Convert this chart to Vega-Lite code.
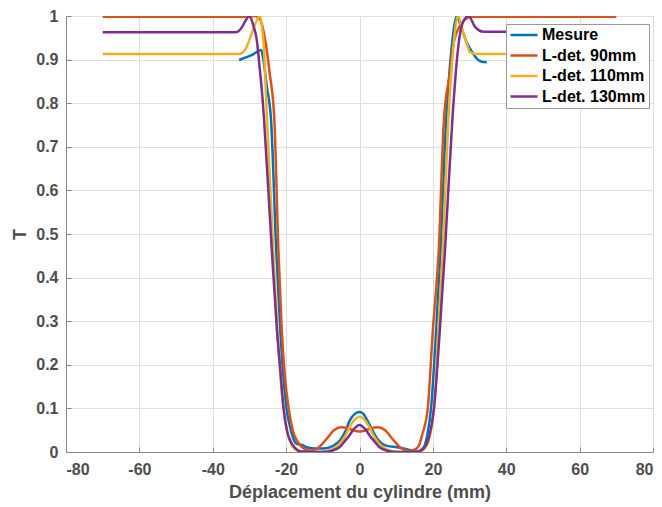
{
  "$schema": "https://vega.github.io/schema/vega-lite/v6.json",
  "width": 587,
  "height": 436,
  "autosize": {"type": "none"},
  "padding": {"left": 66, "top": 16, "right": 9, "bottom": 55},
  "background": "white",
  "config": {
    "view": {"stroke": "#888888", "strokeWidth": 1},
    "font": "Liberation Sans",
    "axis": {
      "labelFont": "Liberation Sans",
      "labelFontWeight": "bold",
      "labelFontSize": 16,
      "labelColor": "#4d4d4d",
      "titleFont": "Liberation Sans",
      "titleFontWeight": "bold",
      "titleFontSize": 18,
      "titleColor": "#4d4d4d",
      "domainColor": "#888888",
      "tickColor": "#888888",
      "gridColor": "#dedede",
      "gridWidth": 1
    }
  },
  "data": {
    "values": [
      {"s":"Mesure","x":-32.8,"y":0.899},{"s":"Mesure","x":-31,"y":0.905},{"s":"Mesure","x":-29,"y":0.912},{"s":"Mesure","x":-27.5,"y":0.92},{"s":"Mesure","x":-26.8,"y":0.922},{"s":"Mesure","x":-26.2,"y":0.9},{"s":"Mesure","x":-25.3,"y":0.84},{"s":"Mesure","x":-24.1,"y":0.76},{"s":"Mesure","x":-22.7,"y":0.463},{"s":"Mesure","x":-21.6,"y":0.28},{"s":"Mesure","x":-20.5,"y":0.15},{"s":"Mesure","x":-19.9,"y":0.1},{"s":"Mesure","x":-19,"y":0.06},{"s":"Mesure","x":-18,"y":0.03},{"s":"Mesure","x":-17,"y":0.018},{"s":"Mesure","x":-15.6,"y":0.016},{"s":"Mesure","x":-14.4,"y":0.011},{"s":"Mesure","x":-12,"y":0.008},{"s":"Mesure","x":-9.7,"y":0.008},{"s":"Mesure","x":-7.5,"y":0.013},{"s":"Mesure","x":-5.3,"y":0.027},{"s":"Mesure","x":-4,"y":0.045},{"s":"Mesure","x":-2.6,"y":0.073},{"s":"Mesure","x":-1.2,"y":0.088},{"s":"Mesure","x":0,"y":0.092},{"s":"Mesure","x":1,"y":0.088},{"s":"Mesure","x":2.1,"y":0.073},{"s":"Mesure","x":3.5,"y":0.05},{"s":"Mesure","x":4.8,"y":0.031},{"s":"Mesure","x":6,"y":0.02},{"s":"Mesure","x":7.5,"y":0.014},{"s":"Mesure","x":10.3,"y":0.011},{"s":"Mesure","x":12,"y":0.008},{"s":"Mesure","x":13.9,"y":0.004},{"s":"Mesure","x":16,"y":0.002},{"s":"Mesure","x":17.5,"y":0.01},{"s":"Mesure","x":18.5,"y":0.04},{"s":"Mesure","x":19.5,"y":0.1},{"s":"Mesure","x":20.9,"y":0.28},{"s":"Mesure","x":22.1,"y":0.463},{"s":"Mesure","x":23.6,"y":0.761},{"s":"Mesure","x":24.8,"y":0.9},{"s":"Mesure","x":25.7,"y":0.97},{"s":"Mesure","x":26.5,"y":1.0},{"s":"Mesure","x":27.5,"y":0.98},{"s":"Mesure","x":29.2,"y":0.94},{"s":"Mesure","x":30.5,"y":0.92},{"s":"Mesure","x":31.5,"y":0.907},{"s":"Mesure","x":33.3,"y":0.895},{"s":"Mesure","x":34.7,"y":0.894},

      {"s":"L-det. 90mm","x":-70,"y":0.998},{"s":"L-det. 90mm","x":-32,"y":0.998},{"s":"L-det. 90mm","x":-28.5,"y":1.0},{"s":"L-det. 90mm","x":-27,"y":0.99},{"s":"L-det. 90mm","x":-25.7,"y":0.945},{"s":"L-det. 90mm","x":-24.5,"y":0.87},{"s":"L-det. 90mm","x":-23.2,"y":0.761},{"s":"L-det. 90mm","x":-22.1,"y":0.463},{"s":"L-det. 90mm","x":-21.2,"y":0.28},{"s":"L-det. 90mm","x":-20.3,"y":0.17},{"s":"L-det. 90mm","x":-19.3,"y":0.1},{"s":"L-det. 90mm","x":-18.2,"y":0.05},{"s":"L-det. 90mm","x":-16.6,"y":0.02},{"s":"L-det. 90mm","x":-15,"y":0.007},{"s":"L-det. 90mm","x":-13.4,"y":0.003},{"s":"L-det. 90mm","x":-11.5,"y":0.008},{"s":"L-det. 90mm","x":-10,"y":0.02},{"s":"L-det. 90mm","x":-8.5,"y":0.035},{"s":"L-det. 90mm","x":-7,"y":0.05},{"s":"L-det. 90mm","x":-5,"y":0.057},{"s":"L-det. 90mm","x":-3,"y":0.054},{"s":"L-det. 90mm","x":-1.5,"y":0.049},{"s":"L-det. 90mm","x":0,"y":0.047},{"s":"L-det. 90mm","x":1.5,"y":0.049},{"s":"L-det. 90mm","x":3,"y":0.054},{"s":"L-det. 90mm","x":5,"y":0.057},{"s":"L-det. 90mm","x":7,"y":0.05},{"s":"L-det. 90mm","x":8.5,"y":0.035},{"s":"L-det. 90mm","x":10,"y":0.02},{"s":"L-det. 90mm","x":11.5,"y":0.008},{"s":"L-det. 90mm","x":13.4,"y":0.003},{"s":"L-det. 90mm","x":15,"y":0.005},{"s":"L-det. 90mm","x":16.2,"y":0.015},{"s":"L-det. 90mm","x":17.1,"y":0.04},{"s":"L-det. 90mm","x":18.6,"y":0.1},{"s":"L-det. 90mm","x":20,"y":0.28},{"s":"L-det. 90mm","x":21.6,"y":0.463},{"s":"L-det. 90mm","x":23,"y":0.761},{"s":"L-det. 90mm","x":24.7,"y":0.872},{"s":"L-det. 90mm","x":25.5,"y":0.93},{"s":"L-det. 90mm","x":26.9,"y":0.97},{"s":"L-det. 90mm","x":28.5,"y":0.99},{"s":"L-det. 90mm","x":30.6,"y":0.998},{"s":"L-det. 90mm","x":70,"y":0.998},

      {"s":"L-det. 110mm","x":-70,"y":0.913},{"s":"L-det. 110mm","x":-33,"y":0.913},{"s":"L-det. 110mm","x":-32,"y":0.915},{"s":"L-det. 110mm","x":-31,"y":0.925},{"s":"L-det. 110mm","x":-29.8,"y":0.95},{"s":"L-det. 110mm","x":-28.5,"y":0.98},{"s":"L-det. 110mm","x":-27.1,"y":1.0},{"s":"L-det. 110mm","x":-26.6,"y":0.975},{"s":"L-det. 110mm","x":-26.2,"y":0.945},{"s":"L-det. 110mm","x":-25.2,"y":0.761},{"s":"L-det. 110mm","x":-23.5,"y":0.463},{"s":"L-det. 110mm","x":-22.4,"y":0.28},{"s":"L-det. 110mm","x":-21,"y":0.119},{"s":"L-det. 110mm","x":-20,"y":0.06},{"s":"L-det. 110mm","x":-19,"y":0.025},{"s":"L-det. 110mm","x":-17.5,"y":0.006},{"s":"L-det. 110mm","x":-16,"y":0.001},{"s":"L-det. 110mm","x":-12,"y":0.0},{"s":"L-det. 110mm","x":-9,"y":0.002},{"s":"L-det. 110mm","x":-7,"y":0.008},{"s":"L-det. 110mm","x":-5.3,"y":0.02},{"s":"L-det. 110mm","x":-4,"y":0.035},{"s":"L-det. 110mm","x":-2.5,"y":0.06},{"s":"L-det. 110mm","x":-1,"y":0.077},{"s":"L-det. 110mm","x":0,"y":0.081},{"s":"L-det. 110mm","x":1,"y":0.077},{"s":"L-det. 110mm","x":2.5,"y":0.06},{"s":"L-det. 110mm","x":4,"y":0.035},{"s":"L-det. 110mm","x":5.3,"y":0.02},{"s":"L-det. 110mm","x":7,"y":0.008},{"s":"L-det. 110mm","x":9,"y":0.002},{"s":"L-det. 110mm","x":12,"y":0.0},{"s":"L-det. 110mm","x":16,"y":0.001},{"s":"L-det. 110mm","x":17.5,"y":0.006},{"s":"L-det. 110mm","x":19,"y":0.03},{"s":"L-det. 110mm","x":20,"y":0.08},{"s":"L-det. 110mm","x":20.5,"y":0.12},{"s":"L-det. 110mm","x":21.5,"y":0.28},{"s":"L-det. 110mm","x":22.7,"y":0.463},{"s":"L-det. 110mm","x":24.2,"y":0.761},{"s":"L-det. 110mm","x":25.5,"y":0.92},{"s":"L-det. 110mm","x":26.9,"y":1.0},{"s":"L-det. 110mm","x":27.8,"y":0.975},{"s":"L-det. 110mm","x":28.8,"y":0.949},{"s":"L-det. 110mm","x":30.1,"y":0.918},{"s":"L-det. 110mm","x":31.5,"y":0.913},{"s":"L-det. 110mm","x":70,"y":0.913},

      {"s":"L-det. 130mm","x":-70,"y":0.963},{"s":"L-det. 130mm","x":-34,"y":0.963},{"s":"L-det. 130mm","x":-33,"y":0.965},{"s":"L-det. 130mm","x":-32,"y":0.975},{"s":"L-det. 130mm","x":-31,"y":0.99},{"s":"L-det. 130mm","x":-30,"y":1.0},{"s":"L-det. 130mm","x":-29,"y":0.98},{"s":"L-det. 130mm","x":-28,"y":0.945},{"s":"L-det. 130mm","x":-27.2,"y":0.88},{"s":"L-det. 130mm","x":-26.4,"y":0.807},{"s":"L-det. 130mm","x":-26,"y":0.761},{"s":"L-det. 130mm","x":-23.9,"y":0.463},{"s":"L-det. 130mm","x":-22.5,"y":0.28},{"s":"L-det. 130mm","x":-21.6,"y":0.19},{"s":"L-det. 130mm","x":-20.7,"y":0.1},{"s":"L-det. 130mm","x":-19.8,"y":0.05},{"s":"L-det. 130mm","x":-18.5,"y":0.02},{"s":"L-det. 130mm","x":-17,"y":0.005},{"s":"L-det. 130mm","x":-16,"y":0.001},{"s":"L-det. 130mm","x":-10,"y":0.0},{"s":"L-det. 130mm","x":-7.5,"y":0.003},{"s":"L-det. 130mm","x":-5.3,"y":0.012},{"s":"L-det. 130mm","x":-4,"y":0.025},{"s":"L-det. 130mm","x":-3,"y":0.035},{"s":"L-det. 130mm","x":-1.5,"y":0.053},{"s":"L-det. 130mm","x":0,"y":0.062},{"s":"L-det. 130mm","x":1.5,"y":0.053},{"s":"L-det. 130mm","x":3,"y":0.035},{"s":"L-det. 130mm","x":4,"y":0.025},{"s":"L-det. 130mm","x":5.3,"y":0.012},{"s":"L-det. 130mm","x":7.5,"y":0.003},{"s":"L-det. 130mm","x":10,"y":0.0},{"s":"L-det. 130mm","x":16,"y":0.001},{"s":"L-det. 130mm","x":17.5,"y":0.008},{"s":"L-det. 130mm","x":18.8,"y":0.03},{"s":"L-det. 130mm","x":20.3,"y":0.1},{"s":"L-det. 130mm","x":21.9,"y":0.28},{"s":"L-det. 130mm","x":23.3,"y":0.463},{"s":"L-det. 130mm","x":25.3,"y":0.761},{"s":"L-det. 130mm","x":26.8,"y":0.92},{"s":"L-det. 130mm","x":27.9,"y":0.979},{"s":"L-det. 130mm","x":29.7,"y":1.0},{"s":"L-det. 130mm","x":31.5,"y":0.975},{"s":"L-det. 130mm","x":33.8,"y":0.964},{"s":"L-det. 130mm","x":70,"y":0.963}
    ]
  },
  "mark": {"type": "line", "interpolate": "monotone", "strokeWidth": 2.5, "clip": true},
  "encoding": {
    "x": {
      "field": "x", "type": "quantitative",
      "scale": {"domain": [-80, 80], "nice": false},
      "axis": {
        "title": "Déplacement du cylindre (mm)",
        "values": [-80,-60,-40,-20,0,20,40,60,80],
        "labelExpr": "replace(datum.label, '−', '-')",
        "tickSize": -5,
        "labelPadding": 14,
        "titlePadding": 6
      }
    },
    "y": {
      "field": "y", "type": "quantitative",
      "scale": {"domain": [0, 1], "nice": false},
      "axis": {
        "title": "T",
        "values": [0,0.1,0.2,0.3,0.4,0.5,0.6,0.7,0.8,0.9,1],
        "labelExpr": "format(datum.value, '~g')",
        "tickSize": -5,
        "labelPadding": 13,
        "titlePadding": 6
      }
    },
    "color": {
      "field": "s", "type": "nominal",
      "sort": ["Mesure", "L-det. 90mm", "L-det. 110mm", "L-det. 130mm"],
      "scale": {
        "domain": ["Mesure", "L-det. 90mm", "L-det. 110mm", "L-det. 130mm"],
        "range": ["#0072BD", "#D95319", "#EDB120", "#7E2F8E"]
      },
      "legend": {
        "title": null,
        "orient": "none",
        "legendX": 440,
        "legendY": 8,
        "fillColor": "white",
        "strokeColor": "#999999",
        "padding": 3,
        "symbolType": "stroke",
        "symbolSize": 729,
        "symbolStrokeWidth": 2.5,
        "clipHeight": 16,
        "labelFont": "Liberation Sans",
        "labelFontWeight": "bold",
        "labelFontSize": 16,
        "labelColor": "#000000",
        "labelOffset": 3,
        "rowPadding": 4.5
      }
    }
  }
}
